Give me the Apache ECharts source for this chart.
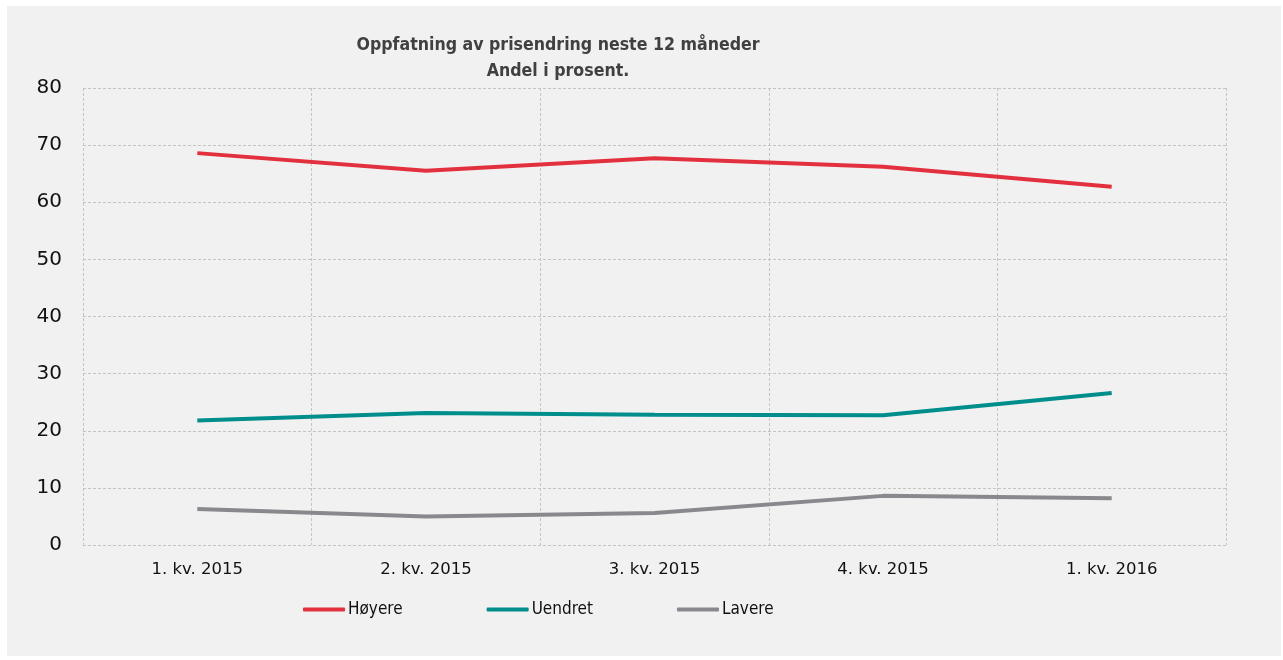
<!DOCTYPE html>
<html>
<head>
<meta charset="utf-8">
<script src="https://cdn.jsdelivr.net/npm/echarts@6/dist/echarts.min.js"></script>
<style>
  html, body { margin: 0; padding: 0; background: #ffffff; }
  #chart { position: absolute; left: 7px; top: 6px; width: 1274px; height: 650px; background: #f1f1f1; }
</style>
</head>
<body>
<div id="chart"></div>
<script>
// quarters on the x axis
const categories = ["1. kv. 2015", "2. kv. 2015", "3. kv. 2015", "4. kv. 2015", "1. kv. 2016"];
// share in percent
const hoyere = [68.6, 65.5, 67.7, 66.2, 62.7];
const uendret = [21.8, 23.1, 22.8, 22.7, 26.6];
const lavere = [6.3, 5.0, 5.6, 8.6, 8.2];

let myChart = echarts.init(document.getElementById("chart"));

const gridLine = { color: "#c4c4c4", width: 1, type: [3, 2] };

let option = {
  animation: false,
  title: {
    text: "Oppfatning av prisendring neste 12 måneder\nAndel i prosent.",
    left: 546,
    top: 21,
    textAlign: "center",
    textStyle: {
      fontFamily: "DejaVu Sans Condensed",
      fontWeight: "bold",
      fontSize: 17.6,
      lineHeight: 26,
      color: "#404040",
    },
  },
  grid: { left: 76, right: 55, top: 82, bottom: 111 },
  legend: {
    bottom: 33,
    left: 291,
    itemGap: 84,
    itemWidth: 42,
    itemHeight: 4,
    icon: "roundRect",
    textStyle: { fontFamily: "DejaVu Sans Condensed", fontSize: 17, color: "#111", padding: [0, 0, 0, -2] },
    data: ["Høyere", "Uendret", "Lavere"],
  },
  xAxis: {
    type: "category",
    data: categories,
    boundaryGap: true,
    axisLine: { show: false },
    axisTick: { show: false },
    axisLabel: { margin: 16, fontFamily: "DejaVu Sans", fontSize: 16.5, color: "#111" },
    splitLine: { show: true, lineStyle: gridLine },
  },
  yAxis: {
    type: "value",
    min: 0,
    max: 80,
    interval: 10,
    axisLine: { show: false },
    axisTick: { show: false },
    axisLabel: { margin: 21, fontFamily: "DejaVu Sans", fontSize: 20, color: "#111" },
    splitLine: { show: true, lineStyle: gridLine },
  },
  series: [
    {
      name: "Høyere",
      type: "line",
      data: hoyere,
      symbol: "none",
      itemStyle: { color: "#e3303e" },
      lineStyle: { color: "#e3303e", width: 4 },
    },
    {
      name: "Uendret",
      type: "line",
      data: uendret,
      symbol: "none",
      itemStyle: { color: "#008e8c" },
      lineStyle: { color: "#008e8c", width: 4 },
    },
    {
      name: "Lavere",
      type: "line",
      data: lavere,
      symbol: "none",
      itemStyle: { color: "#89898d" },
      lineStyle: { color: "#89898d", width: 4 },
    },
  ],
};

option && myChart.setOption(option);
</script>
</body>
</html>
